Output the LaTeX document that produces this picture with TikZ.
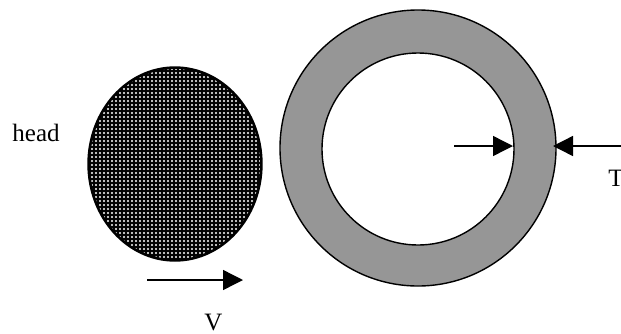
\documentclass[tikz,border=0pt]{standalone}
\usepackage{fontspec}
\setmainfont{Liberation Serif}
\usetikzlibrary{arrows.meta,patterns.meta}
\definecolor{ringgray}{RGB}{150,150,150}
\tikzset{
  label/.style={
    anchor=base west,
    inner sep=0pt,
    font=\fontsize{12.5}{15}\selectfont
  },
  outline/.style={
    draw=black,
    line width=0.7pt
  },
  arr/.style={-{Triangle[length=10pt,width=10pt]},line width=0.7pt}
}
\begin{document}
\begin{tikzpicture}[x=0.5pt,y=-0.5pt]
        \useasboundingbox (0,0) rectangle (621,333);
        % dotted head
        \fill[black] (175,164) ellipse [x radius=87,y radius=97];
        \fill[pattern={Dots[distance=2pt,radius=0.6pt]},pattern color=white] (175,164) ellipse [x radius=85,y radius=95];
        \draw[outline] (175,164) ellipse [x radius=87,y radius=97];
        % ring
        \draw[outline,fill=ringgray] (418,148) circle [radius=138];
        \draw[outline,fill=white] (418,149) circle [radius=96];
        % labels
        \node[label] (head) at (12,141) {head};
        \node[label] (v) at (204,330) {V};
        \node[label] (t) at (608,186) {T};
        % arrow ends
        \coordinate (vstart) at (147,280);
        \coordinate (vend) at (243,280);
        \coordinate (instart) at (454,146);
        \coordinate (inend) at (513,146);
        \coordinate (outstart) at (630,146);
        \coordinate (outend) at (553,146);
        \draw[arr] (vstart) -- (vend);
        \draw[arr] (instart) -- (inend);
        \draw[arr] (outstart) -- (outend);
      \end{tikzpicture}
\end{document}
